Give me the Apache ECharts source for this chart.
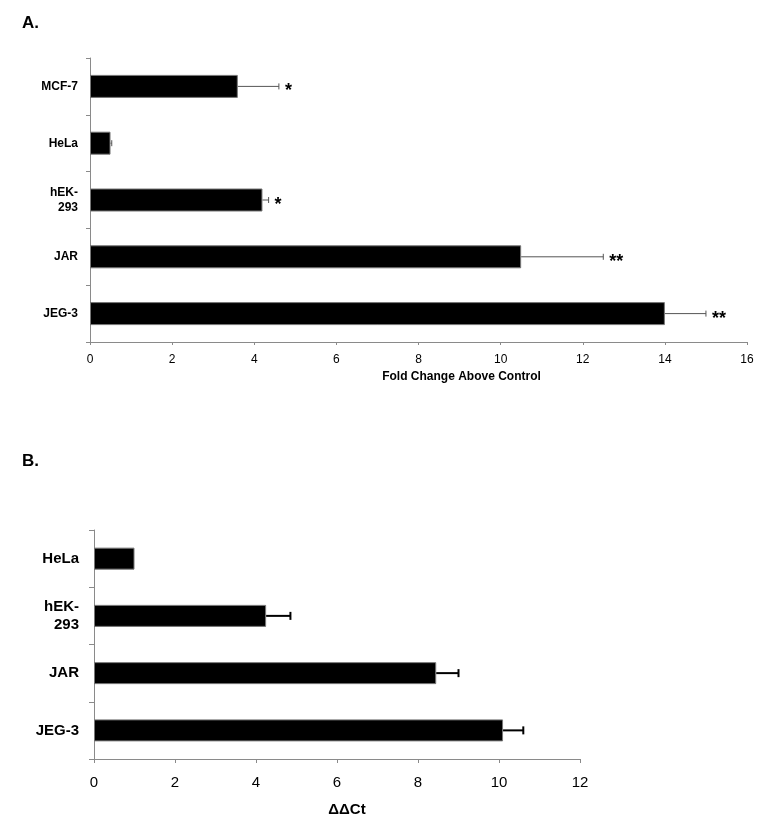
<!DOCTYPE html>
<html>
<head>
<meta charset="utf-8">
<script src="https://cdn.jsdelivr.net/npm/echarts@6/dist/echarts.min.js"></script>
<style>
html,body{margin:0;padding:0;background:#fff;}
#chart{width:769px;height:824px;}
</style>
</head>
<body>
<div id="chart"></div>
<script>
// Panel A data
const catsA = ['MCF-7', 'HeLa', 'hEK-\n293', 'JAR', 'JEG-3'];
const valsA = [3.6, 0.5, 4.2, 10.5, 14.0];
const errA = [1.0, 0.03, 0.15, 2.0, 1.0];
const sigA = ['*', '', '*', '**', '**'];
const ticksA = { min: 0, max: 16, interval: 2 };

// Panel B data
const catsB = ['HeLa', 'hEK-\n293', 'JAR', 'JEG-3'];
const valsB = [1.0, 4.25, 8.45, 10.1];
const errB = [0, 0.6, 0.55, 0.5];
const ticksB = { min: 0, max: 12, interval: 2 };

const FONT = '"Liberation Sans", Arial, sans-serif';
const axisGray = '#8a8a8a';

function errData(vals, errs, sig) {
  return vals.map((v, i) => [i, v, v + errs[i], sig ? sig[i] : '']);
}

function makeErrRender(opts) {
  return function (params, api) {
    const idx = api.value(0);
    const lo = api.coord([api.value(1), idx]);
    const hi = api.coord([api.value(2), idx]);
    const star = params.dataIndex != null ? opts.sig[params.dataIndex] : '';
    const children = [];
    if (hi[0] - lo[0] > 0.5) {
      children.push({
        type: 'line',
        shape: { x1: lo[0], y1: lo[1], x2: hi[0], y2: hi[1] },
        style: { stroke: opts.color, lineWidth: opts.lw }
      });
      children.push({
        type: 'line',
        shape: { x1: hi[0], y1: hi[1] - opts.cap, x2: hi[0], y2: hi[1] + opts.cap },
        style: { stroke: opts.color, lineWidth: opts.lw }
      });
    }
    if (star) {
      children.push({
        type: 'text',
        style: {
          x: hi[0] + 6, y: hi[1] + 5,
          text: star,
          fill: '#000',
          font: 'bold 18px ' + FONT,
          textAlign: 'left',
          textVerticalAlign: 'middle'
        }
      });
    }
    return { type: 'group', children: children };
  };
}

const chart = echarts.init(document.getElementById('chart'), null, { renderer: 'canvas' });

const option = {
  backgroundColor: '#fff',
  animation: false,
  title: [
    { text: 'A.', left: 17, top: 10, textStyle: { fontFamily: FONT, fontWeight: 'bold', fontSize: 17, color: '#000' } },
    { text: 'B.', left: 17, top: 448, textStyle: { fontFamily: FONT, fontWeight: 'bold', fontSize: 17, color: '#000' } }
  ],
  grid: [
    { left: 90, top: 58, width: 657, height: 284 },
    { left: 94, top: 530, width: 486, height: 229 }
  ],
  xAxis: [
    {
      gridIndex: 0, type: 'value', min: ticksA.min, max: ticksA.max, interval: ticksA.interval,
      name: 'Fold Change Above Control', nameLocation: 'middle', nameGap: 29,
      nameTextStyle: { fontFamily: FONT, fontWeight: 'bold', fontSize: 12, color: '#000', padding: [0, 0, 0, 86] },
      axisLine: { show: true, lineStyle: { color: axisGray, width: 1 } },
      axisTick: { show: true, length: 3, lineStyle: { color: axisGray } },
      axisLabel: { fontFamily: FONT, fontSize: 12, color: '#000', margin: 12 },
      splitLine: { show: false }
    },
    {
      gridIndex: 1, type: 'value', min: ticksB.min, max: ticksB.max, interval: ticksB.interval,
      name: 'ΔΔCt', nameLocation: 'middle', nameGap: 43,
      nameTextStyle: { fontFamily: FONT, fontWeight: 'bold', fontSize: 15, color: '#000', padding: [0, 0, 0, 20] },
      axisLine: { show: true, lineStyle: { color: axisGray, width: 1 } },
      axisTick: { show: true, length: 4, lineStyle: { color: axisGray } },
      axisLabel: { fontFamily: FONT, fontSize: 15, color: '#000', margin: 16 },
      splitLine: { show: false }
    }
  ],
  yAxis: [
    {
      gridIndex: 0, type: 'category', data: catsA, inverse: true,
      axisLine: { show: true, lineStyle: { color: axisGray, width: 1 } },
      axisTick: { show: true, length: 4, lineStyle: { color: axisGray } },
      axisLabel: { fontFamily: FONT, fontWeight: 'bold', fontSize: 12, color: '#000', margin: 12, lineHeight: 15, align: 'right' }
    },
    {
      gridIndex: 1, type: 'category', data: catsB, inverse: true,
      axisLine: { show: true, lineStyle: { color: axisGray, width: 1 } },
      axisTick: { show: true, length: 5, lineStyle: { color: axisGray } },
      axisLabel: { fontFamily: FONT, fontWeight: 'bold', fontSize: 15, color: '#000', margin: 15, lineHeight: 18, align: 'right' }
    }
  ],
  series: [
    {
      type: 'bar', xAxisIndex: 0, yAxisIndex: 0, data: valsA, barWidth: 23,
      itemStyle: { color: '#000', borderColor: '#777', borderWidth: 1 }
    },
    {
      type: 'custom', xAxisIndex: 0, yAxisIndex: 0, data: errData(valsA, errA, sigA),
      encode: { x: [1, 2], y: 0 },
      renderItem: makeErrRender({ color: '#555', lw: 1, cap: 3, sig: sigA }),
      z: 5
    },
    {
      type: 'bar', xAxisIndex: 1, yAxisIndex: 1, data: valsB, barWidth: 22,
      itemStyle: { color: '#000', borderColor: '#777', borderWidth: 1 }
    },
    {
      type: 'custom', xAxisIndex: 1, yAxisIndex: 1, data: errData(valsB, errB, null),
      encode: { x: [1, 2], y: 0 },
      renderItem: makeErrRender({ color: '#000', lw: 2, cap: 4, sig: ['', '', '', ''] }),
      z: 5
    }
  ]
};

chart.setOption(option);
</script>
</body>
</html>
